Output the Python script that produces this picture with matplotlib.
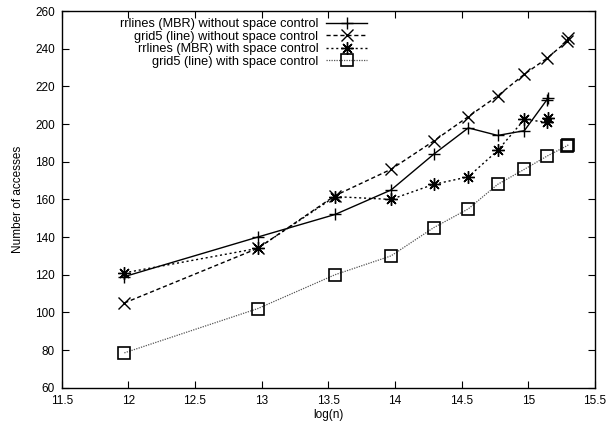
import matplotlib
matplotlib.use("Agg")
import matplotlib.pyplot as plt

### data
x_rr = [11.97, 12.97, 13.55, 13.97, 14.29, 14.55, 14.77, 14.97, 15.14, 15.15]
rr_no_ctrl = [119, 140, 152, 165, 184, 198, 194, 196.5, 213, 214]

x_g5 = [11.97, 12.97, 13.55, 13.97, 14.29, 14.55, 14.77, 14.97, 15.14, 15.29, 15.30]
g5_no_ctrl = [105, 134, 162, 176, 191, 204, 215, 226.5, 235, 244, 245.5]

x_rr_sc = [11.97, 12.97, 13.55, 13.97, 14.29, 14.55, 14.77, 14.97, 15.14, 15.15]
rr_ctrl = [121, 134, 161.5, 160, 168, 172, 186, 202.5, 201, 203.5]

x_g5_sc = [11.97, 12.97, 13.55, 13.97, 14.29, 14.55, 14.77, 14.97, 15.14, 15.29, 15.30]
g5_ctrl = [78.5, 102, 120, 130, 145, 155, 168, 176, 183, 188.5, 189]

labels = ["rrlines (MBR) without space control",
          "grid5 (line) without space control",
          "rrlines (MBR) with space control",
          "grid5 (line) with space control"]

xticks = [11.5, 12, 12.5, 13, 13.5, 14, 14.5, 15, 15.5]
yticks = list(range(60, 261, 20))

plt.rcParams['font.family'] = ['Liberation Sans', 'DejaVu Sans']

fig = plt.figure(figsize=(6.09, 4.30), dpi=100)
ax = fig.add_axes([0.1013, 0.0984, 0.8757, 0.8756])

ms = 8
ax.plot(x_rr, rr_no_ctrl, color='black', lw=1.0, ls='-', marker='+',
        ms=ms, mew=1.0, label=labels[0])
ax.plot(x_g5, g5_no_ctrl, color='black', lw=1.0, ls=(0, (3, 2)), marker='x',
        ms=ms, mew=1.0, label=labels[1])
ax.plot(x_rr_sc, rr_ctrl, color='black', lw=1.0, ls=(0, (1.5, 2)), marker=(8, 2, 0),
        ms=ms + 1, mew=1.0, label=labels[2])
ax.plot(x_g5_sc, g5_ctrl, color='#555555', lw=0.9, ls=(0, (1, 1)), marker='s',
        ms=ms, mew=1.2, mec='black', mfc='none', label=labels[3])

ax.set_xlim(11.5, 15.5)
ax.set_ylim(60, 260)
ax.set_xticks(xticks)
ax.set_xticklabels([f"{t:g}" for t in xticks])
ax.set_yticks(yticks)
ax.tick_params(direction='in', length=5, width=0.8, labelsize=8.5,
               top=True, right=True, pad=5)
for s in ax.spines.values():
    s.set_linewidth(1.0)

ax.set_xlabel("log(n)", fontsize=8.5, labelpad=2)
ax.set_ylabel("Number of accesses", fontsize=8.5, labelpad=8)

ax.legend(loc='upper right', bbox_to_anchor=(367 / 609, 1 - 18 / 430),
          bbox_transform=fig.transFigure, frameon=False, markerfirst=False,
          fontsize=9.2, handlelength=3.2, handletextpad=0.6,
          labelspacing=0.05, borderpad=0, borderaxespad=0)

fig.savefig("out.png", dpi=100)
